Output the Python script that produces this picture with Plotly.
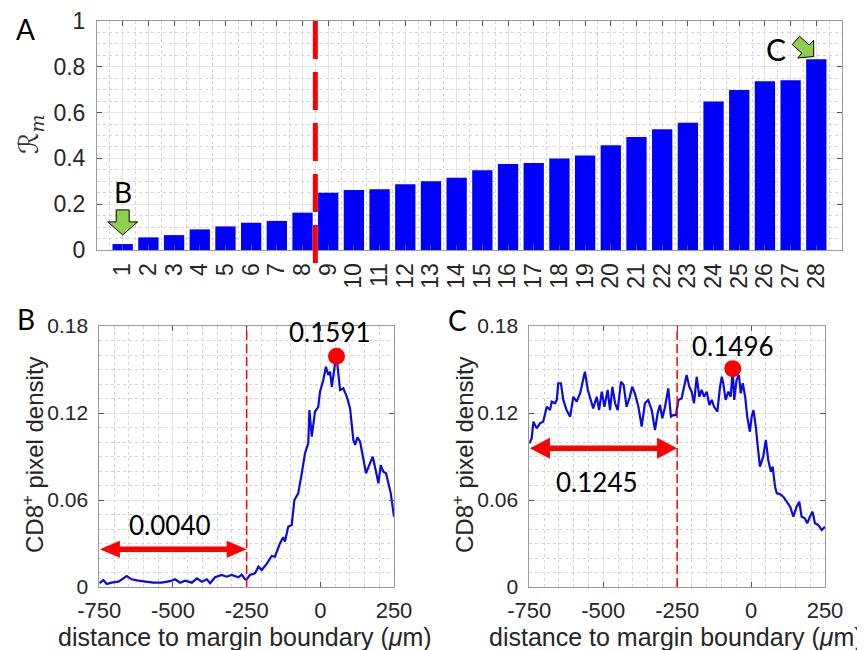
import plotly.graph_objects as go
import math

# ---------------- data ----------------
sample_ids = list(range(1, 29))
rm_values = [0.026, 0.055, 0.065, 0.090, 0.103, 0.119, 0.127, 0.163,
             0.250, 0.262, 0.265, 0.287, 0.300, 0.316, 0.348, 0.376, 0.380,
             0.400, 0.413, 0.457, 0.493, 0.527, 0.556, 0.648, 0.699, 0.737,
             0.741, 0.833]
split_position = 8.5

b_dist = [-750, -747, -736, -725, -708, -685, -657, -640, -618, -595,
          -567, -538, -510, -493, -476, -459, -436, -419, -402, -385,
          -374, -357, -335, -318, -301, -278, -267, -255, -250, -239,
          -222, -210, -199, -182, -165, -154, -137, -126, -120, -109,
          -97, -88, -75, -63, -52, -41, -37, -29, -18, -7,
          -1, 10, 19, 27, 33, 39, 44, 50, 55, 61,
          67, 78, 90, 101, 112, 118, 126, 135, 144, 155,
          166, 178, 189, 197, 205, 214, 223, 231, 239, 250]
b_density = [0.0035, 0.0030, 0.0048, 0.0021, 0.0030, 0.0037, 0.0076, 0.0053, 0.0044, 0.0037,
             0.0030, 0.0030, 0.0040, 0.0053, 0.0030, 0.0044, 0.0030, 0.0060, 0.0037, 0.0053,
             0.0026, 0.0067, 0.0083, 0.0071, 0.0083, 0.0067, 0.0085, 0.0053, 0.0053, 0.0083,
             0.0094, 0.0140, 0.0117, 0.0159, 0.0214, 0.0209, 0.0301, 0.0343, 0.0313, 0.0416,
             0.0428, 0.0600, 0.0646, 0.0784, 0.0922, 0.0991, 0.1220, 0.1037, 0.1210, 0.1243,
             0.1347, 0.1428, 0.1519, 0.1462, 0.1485, 0.1380, 0.1474, 0.1543, 0.1591, 0.1470,
             0.1359, 0.1370, 0.1312, 0.1232, 0.1014, 0.0980, 0.1032, 0.1002, 0.0910, 0.0784,
             0.0841, 0.0899, 0.0795, 0.0715, 0.0841, 0.0795, 0.0784, 0.0703, 0.0646, 0.0485]

c_dist = [-750, -742, -736, -725, -714, -703, -691, -680, -674, -663,
          -657, -652, -643, -635, -624, -612, -601, -590, -578, -571,
          -562, -552, -545, -534, -522, -514, -505, -496, -485, -477,
          -469, -460, -451, -440, -431, -421, -410, -402, -393, -381,
          -370, -359, -348, -336, -325, -316, -308, -300, -291, -280,
          -271, -263, -254, -246, -235, -227, -218, -209, -201, -193,
          -184, -175, -167, -159, -150, -141, -133, -125, -114, -105,
          -99, -94, -86, -77, -69, -62, -57, -49, -41, -35,
          -28, -20, -13, -4, 2, 8, 16, 22, 30, 41,
          50, 58, 67, 73, 81, 87, 98, 109, 120, 132,
          143, 154, 163, 171, 182, 190, 199, 208, 216, 227,
          239, 250]
c_density = [0.0990, 0.1025, 0.1140, 0.1094, 0.1129, 0.1140, 0.1243, 0.1220, 0.1278, 0.1267,
             0.1290, 0.1405, 0.1405, 0.1290, 0.1220, 0.1175, 0.1312, 0.1278, 0.1336, 0.1405,
             0.1485, 0.1359, 0.1312, 0.1232, 0.1312, 0.1220, 0.1347, 0.1243, 0.1359, 0.1220,
             0.1381, 0.1267, 0.1220, 0.1416, 0.1393, 0.1243, 0.1312, 0.1381, 0.1336, 0.1243,
             0.1106, 0.1267, 0.1290, 0.1220, 0.1083, 0.1198, 0.1255, 0.1163, 0.1243, 0.1370,
             0.1175, 0.1186, 0.1186, 0.1290, 0.1300, 0.1381, 0.1462, 0.1381, 0.1347, 0.1267,
             0.1450, 0.1312, 0.1359, 0.1312, 0.1347, 0.1255, 0.1290, 0.1243, 0.1210, 0.1381,
             0.1450, 0.1405, 0.1290, 0.1347, 0.1312, 0.1496, 0.1290, 0.1428, 0.1462, 0.1336,
             0.1405, 0.1312, 0.1175, 0.1071, 0.1175, 0.1220, 0.1106, 0.0980, 0.0830, 0.0899,
             0.1014, 0.0876, 0.0795, 0.0830, 0.0692, 0.0646, 0.0641, 0.0623, 0.0588, 0.0554,
             0.0485, 0.0554, 0.0588, 0.0485, 0.0474, 0.0439, 0.0485, 0.0520, 0.0439, 0.0428,
             0.0393, 0.0416]

b_peak_x, b_peak_y = 55, 0.1591
c_peak_x, c_peak_y = -62, 0.1496
b_far_mean = 0.0040
c_far_mean = 0.1245
boundary_x = -250
dist_ticks = [-750, -500, -250, 0, 250]
dist_ticktext = ["-750", "-500", "-250", "0", "250"]
dens_ticks = [0, 0.06, 0.12, 0.18]
dens_ticktext = ["0", "0.06", "0.12", "0.18"]
rm_ticks = [0, 0.2, 0.4, 0.6, 0.8, 1]
rm_ticktext = ["0", "0.2", "0.4", "0.6", "0.8", "1"]

# ---------------- layout geometry ----------------
W, H = 865, 650
OFF = 8  # page body margin in the browser
def px(x):
    return (x - OFF) / W
def py(y):
    return 1 - (y - OFF) / H

top_x = (97, 842); top_y = (21, 250)
bl_x = (99.3, 394); br_x = (529.3, 825); bot_y = (326, 587)

TICKCOL = "#262626"
AXFONT = "Liberation Sans, Arial, sans-serif"
CALI = "Lato, Open Sans, sans-serif"
GRID = "#e6e6e6"
MINOR = "#d4d4d4"
BOX = "#9a9a9a"

fig = go.Figure()

fig.add_trace(go.Bar(x=sample_ids, y=rm_values, width=0.79,
                     marker=dict(color="#0000ff", line=dict(width=0)),
                     xaxis="x", yaxis="y", showlegend=False))

fig.add_trace(go.Scatter(x=b_dist, y=b_density, mode="lines",
                         line=dict(color="#0a0ae6", width=2.2),
                         xaxis="x2", yaxis="y2", showlegend=False))
fig.add_trace(go.Scatter(x=c_dist, y=c_density, mode="lines",
                         line=dict(color="#0a0ae6", width=2.2),
                         xaxis="x3", yaxis="y3", showlegend=False))
fig.add_trace(go.Scatter(x=[b_peak_x], y=[b_peak_y], mode="markers",
                         marker=dict(color="#ff0000", size=17),
                         xaxis="x2", yaxis="y2", showlegend=False))
fig.add_trace(go.Scatter(x=[c_peak_x], y=[c_peak_y + 0.001], mode="markers",
                         marker=dict(color="#ff0000", size=17),
                         xaxis="x3", yaxis="y3", showlegend=False))

def axis_common(**kw):
    d = dict(showline=True, mirror="allticks", linecolor=BOX, linewidth=1,
             ticks="inside", ticklen=5, tickcolor="#555555", tickwidth=1,
             showgrid=True, gridcolor=GRID, gridwidth=1, zeroline=False,
             automargin=False,
             tickfont=dict(family=AXFONT, size=21, color=TICKCOL))
    d.update(kw)
    return d

layout = dict(
    template="none",
    width=W, height=H, autosize=False,
    margin=dict(l=0, r=0, t=0, b=0, pad=0),
    paper_bgcolor="white", plot_bgcolor="white",
    showlegend=False,
    xaxis=axis_common(domain=[px(top_x[0]), px(top_x[1])], anchor="y",
                      range=[0, 29], tickmode="array", tickvals=sample_ids,
                      ticktext=[str(s) for s in sample_ids], tickangle=-90,
                      tickfont=dict(family=AXFONT, size=23, color=TICKCOL),
                      ticklabelstandoff=3,
                      minor=dict(showgrid=True, griddash="dot", gridcolor=MINOR,
                                 tick0=0.5, dtick=1, ticks="")),
    yaxis=axis_common(domain=[py(top_y[1]), py(top_y[0])], anchor="x",
                      range=[0, 1], tickmode="array", tickvals=rm_ticks,
                      ticktext=rm_ticktext,
                      tickfont=dict(family=AXFONT, size=23, color=TICKCOL),
                      ticklabelstandoff=6, ticklabeloverflow="allow",
                      minor=dict(showgrid=True, griddash="dot", gridcolor=MINOR,
                                 dtick=0.05, ticks="")),
    xaxis2=axis_common(domain=[px(bl_x[0]), px(bl_x[1])], anchor="y2",
                       range=[-750, 250], tickmode="array", tickvals=dist_ticks,
                       ticktext=dist_ticktext, ticklabelstandoff=4,
                       tickfont=dict(family=AXFONT, size=22, color=TICKCOL),
                       minor=dict(showgrid=True, griddash="dot", gridcolor=MINOR,
                                  dtick=50, ticks="")),
    yaxis2=axis_common(domain=[py(bot_y[1]), py(bot_y[0])], anchor="x2",
                       range=[0, 0.18], tickmode="array", tickvals=dens_ticks,
                       ticktext=dens_ticktext, ticklabelstandoff=6,
                       minor=dict(showgrid=True, griddash="dot", gridcolor=MINOR,
                                  dtick=0.01, ticks="")),
    xaxis3=axis_common(domain=[px(br_x[0]), px(br_x[1])], anchor="y3",
                       range=[-750, 250], tickmode="array", tickvals=dist_ticks,
                       ticktext=dist_ticktext, ticklabelstandoff=4,
                       tickfont=dict(family=AXFONT, size=22, color=TICKCOL),
                       minor=dict(showgrid=True, griddash="dot", gridcolor=MINOR,
                                  dtick=50, ticks="")),
    yaxis3=axis_common(domain=[py(bot_y[1]), py(bot_y[0])], anchor="x3",
                       range=[0, 0.18], tickmode="array", tickvals=dens_ticks,
                       ticktext=dens_ticktext, ticklabelstandoff=6,
                       minor=dict(showgrid=True, griddash="dot", gridcolor=MINOR,
                                  dtick=0.01, ticks="")),
)
fig.update_layout(**layout)

shapes = []
# dashed split line in top panel (extends below the axis)
shapes.append(dict(type="line", xref="x", yref="paper",
                   x0=split_position, x1=split_position,
                   y0=py(top_y[0]), y1=py(263),
                   line=dict(color="#ff0000", width=5, dash="38px,13px"), layer="above"))
# dashed boundary lines in bottom panels
for xr, yr in (("x2", "y2"), ("x3", "y3")):
    shapes.append(dict(type="line", xref=xr, yref=yr, x0=boundary_x, x1=boundary_x,
                       y0=0, y1=0.18, line=dict(color="#ff0000", width=1.5, dash="9px,4px"),
                       layer="above"))

# block arrow (green) helper: tip in data coords, direction angle in pixel space
xs_top = (top_x[1] - top_x[0]) / 29.0
ys_top = (top_y[1] - top_y[0]) / 1.0
def block_arrow(tip_x, tip_y, ang_deg, L, h, w, Wd, xs, ys):
    a = math.radians(ang_deg)
    d = (math.cos(a), math.sin(a))
    n = (-math.sin(a), math.cos(a))
    local = [(-L, -w), (-h, -w), (-h, -Wd), (0, 0), (-h, Wd), (-h, w), (-L, w)]
    pts = []
    for u, v in local:
        dx = u * d[0] + v * n[0]
        dy = u * d[1] + v * n[1]
        pts.append((tip_x + dx / xs, tip_y - dy / ys))
    return "M " + " L ".join(f"{x:.4f},{y:.5f}" for x, y in pts) + " Z"

shapes.append(dict(type="path", xref="x", yref="y",
                   path=block_arrow(sample_ids[0], rm_values[0] + 0.04, 90, 25, 13, 6.5, 15,
                                    xs_top, ys_top),
                   fillcolor="#8fcf4a", line=dict(color="black", width=1), layer="above"))
shapes.append(dict(type="path", xref="x", yref="y",
                   path=block_arrow(sample_ids[-1] - 0.1, rm_values[-1] + 0.012, 42, 24, 11, 5.5, 12,
                                    xs_top, ys_top),
                   fillcolor="#8fcf4a", line=dict(color="black", width=1), layer="above"))

# red double arrows in bottom panels
xs_bot = (bl_x[1] - bl_x[0]) / 1000.0
ys_bot = (bot_y[1] - bot_y[0]) / 0.18
def double_arrow(x0, x1, yc, head_len, head_half, shaft_half, xs, ys):
    hl = head_len / xs
    hh = head_half / ys
    sh = shaft_half / ys
    pts = [(x0, yc), (x0 + hl, yc + hh), (x0 + hl, yc + sh), (x1 - hl, yc + sh),
           (x1 - hl, yc + hh), (x1, yc), (x1 - hl, yc - hh), (x1 - hl, yc - sh),
           (x0 + hl, yc - sh), (x0 + hl, yc - hh)]
    return "M " + " L ".join(f"{x:.3f},{y:.5f}" for x, y in pts) + " Z"

shapes.append(dict(type="path", xref="x2", yref="y2",
                   path=double_arrow(-748, boundary_x, 0.026, 20, 8.5, 2.8, xs_bot, ys_bot),
                   fillcolor="#ff0000", line=dict(width=0), layer="above"))
shapes.append(dict(type="path", xref="x3", yref="y3",
                   path=double_arrow(-748, boundary_x, 0.0957, 20, 10.5, 2.8, xs_bot, ys_bot),
                   fillcolor="#ff0000", line=dict(width=0), layer="above"))

fig.update_layout(shapes=shapes)

ann = []
def pa(text, x, y, size, family=CALI, color="black", angle=0):
    ann.append(dict(text=text, x=px(x), y=py(y), xref="paper", yref="paper",
                    showarrow=False, xanchor="center", yanchor="middle",
                    textangle=angle, font=dict(family=family, size=size, color=color)))

# panel letters
pa("A", 25, 29, 28)
pa("B", 26, 319, 28)
pa("C", 458, 320, 28)
# arrow labels in top panel
pa("B", 123, 192, 28)
pa("C", 776, 49, 30)
# axis titles
pa("ℛ<sub><i>m</i></sub>", 30, 135, 27, family="DejaVu Serif, DejaVu Sans, serif", color="#333333", angle=-90)
pa("CD8<sup>+</sup> pixel density", 33, 455, 24, family=AXFONT, color=TICKCOL, angle=-90)
pa("CD8<sup>+</sup> pixel density", 463, 455, 24, family=AXFONT, color=TICKCOL, angle=-90)
pa("distance to margin boundary (<i>μ</i>m)", 245, 637, 25, family=AXFONT, color=TICKCOL)
pa("distance to margin boundary (<i>μ</i>m)", 676, 637, 25, family=AXFONT, color=TICKCOL)

# value labels (data-anchored)
ann.append(dict(text=f"{b_peak_y:.4f}", x=b_peak_x - 22, y=b_peak_y + 0.017, xref="x2", yref="y2",
                showarrow=False, font=dict(family=CALI, size=26, color="black")))
ann.append(dict(text=f"{b_far_mean:.4f}", x=(-750 + boundary_x) / 2 - 10, y=0.0425, xref="x2", yref="y2",
                showarrow=False, font=dict(family=CALI, size=26, color="black")))
ann.append(dict(text=f"{c_peak_y:.4f}", x=c_peak_x + 1, y=c_peak_y + 0.0165, xref="x3", yref="y3",
                showarrow=False, font=dict(family=CALI, size=26, color="black")))
ann.append(dict(text=f"{c_far_mean:.4f}", x=(-750 + boundary_x) / 2 - 20, y=0.0725, xref="x3", yref="y3",
                showarrow=False, font=dict(family=CALI, size=26, color="black")))

fig.update_layout(annotations=ann)

fig.write_html("out.html")
